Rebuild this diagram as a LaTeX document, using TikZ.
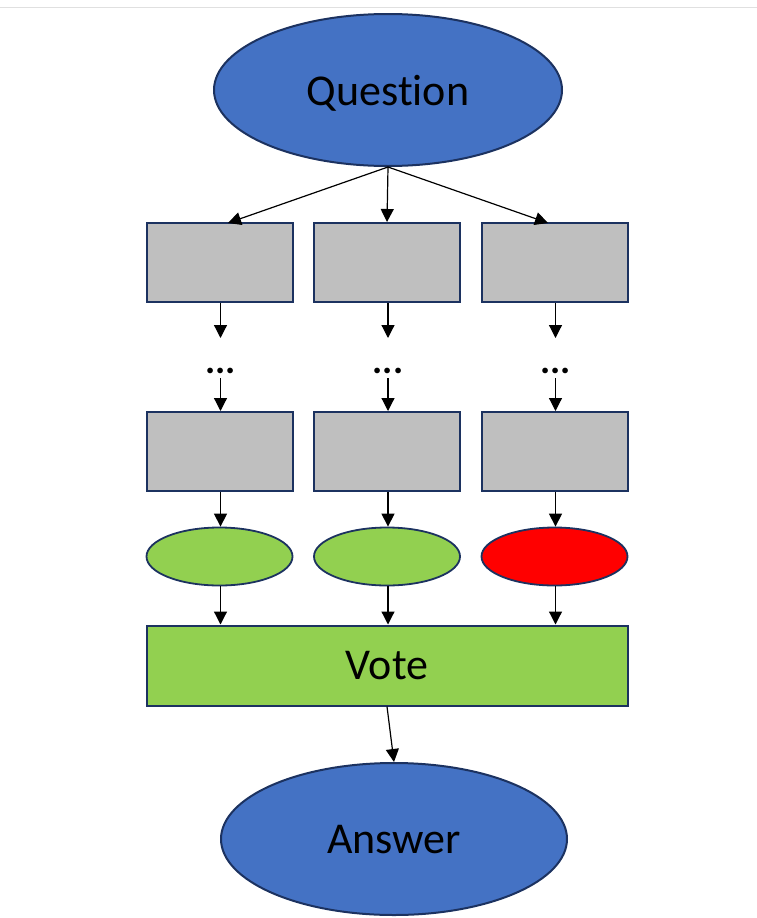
\documentclass[tikz,border=0pt]{standalone}
\usepackage{fontspec}
\setmainfont{Carlito}[Ligatures=NoCommon]
\usetikzlibrary{shapes.geometric,arrows.meta}
\definecolor{qblue}{HTML}{4472C4}
\definecolor{edge}{HTML}{1C3260}
\definecolor{boxgrey}{HTML}{BFBFBF}
\definecolor{okgreen}{HTML}{92D050}
\definecolor{badred}{HTML}{FF0000}
\tikzset{
  bigell/.style={ellipse, draw=edge, line width=2pt, fill=qblue, inner sep=0pt, minimum width=348pt, minimum height=152pt, text depth=0pt, font=\fontsize{44}{48}\selectfont},
  stepbox/.style={rectangle, draw=edge, line width=2pt, fill=boxgrey, minimum width=146pt, minimum height=79pt, inner sep=0pt},
  resell/.style={ellipse, draw=edge, line width=1.8pt, minimum width=146pt, minimum height=58pt, inner sep=0pt},
  votebox/.style={rectangle, draw=edge, line width=2pt, fill=okgreen, minimum width=481pt, minimum height=80pt, inner sep=0pt, text depth=0pt, font=\fontsize{44}{48}\selectfont},
  dots/.style={inner sep=0pt, anchor=base, font=\fontsize{38}{40}\selectfont\bfseries},
  arr/.style={-{Triangle[length=13pt,width=13pt]}, line width=1.2pt, black},
}
\begin{document}
\begin{tikzpicture}[x=1pt,y=-1pt]
\useasboundingbox (0,0) rectangle (757,918);
\draw[line width=1pt, black!12] (0,7) -- (757,7);
\node[bigell] (q) at (388,90) {Question};
\foreach \i/\x in {1/219.5,2/387,3/554.5}{
  \node[stepbox] (a\i) at (\x,262.5) {};
  \node[stepbox] (b\i) at (\x,451.5) {};
  \node[dots] (d\i) at (\x+1,373.5) {...};
  \coordinate (dt\i) at (\x+1,338);
  \coordinate (db\i) at (\x+1,378);
}
\node[resell, fill=okgreen] (e1) at (219.5,556.5) {};
\node[resell, fill=okgreen] (e2) at (387,556.5) {};
\node[resell, fill=badred] (e3) at (554.5,556.5) {};
\node[votebox] (v) at (387,665.5) {Vote};
\node[bigell, minimum width=346pt, minimum height=152pt] (ans) at (394,839) {Answer};
% arrows from question
\draw[arr] (q.south) -- (228,223);
\draw[arr] (q.south) -- (a2.north);
\draw[arr] (q.south) -- (548,223);
\foreach \i in {1,2,3}{
  \draw[arr] (a\i.south -| dt\i) -- (dt\i);
  \draw[arr] (db\i) -- (b\i.north -| db\i);
  \draw[arr] (b\i.south -| db\i) -- (e\i.north -| db\i);
  \draw[arr] (e\i.south -| db\i) -- (v.north -| db\i);
}
\draw[arr] (v.south) -- (ans.north);
\end{tikzpicture}
\end{document}
